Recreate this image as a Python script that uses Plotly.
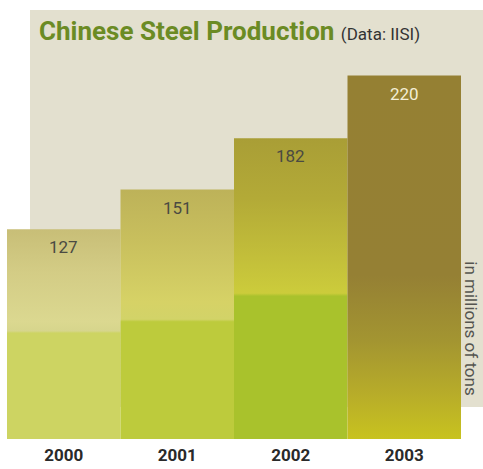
import plotly.graph_objects as go

# Chinese steel production, millions of tons (source: IISI)
years = ["2000", "2001", "2002", "2003"]
production = [127, 151, 182, 220]

# Vertical colour ramps for each bar, bottom (0) to top (1)
bar_ramps = [
    [[0.0, "#cdd462"], [0.505, "#cdd462"], [0.515, "#d6d58c"], [0.56, "#dbd890"],
     [0.8, "#d3cc85"], [1.0, "#c8be77"]],
    [[0.0, "#bdcb3c"], [0.47, "#bdcb3c"], [0.48, "#d2d368"], [0.55, "#d6d266"],
     [0.8, "#c8bf5d"], [1.0, "#bdb259"]],
    [[0.0, "#a9c22c"], [0.475, "#a9c22c"], [0.485, "#cccc3b"], [0.6, "#c3bf3a"],
     [0.8, "#b3aa37"], [1.0, "#a99e36"]],
    [[0.0, "#c8c31f"], [0.12, "#b8ad29"], [0.27, "#a39531"], [0.45, "#958034"],
     [1.0, "#958033"]],
]
label_colors = ["#4a4a42", "#4a4a42", "#4a4a42", "#f3eed6"]

fig = go.Figure()

for i, (yr, val) in enumerate(zip(years, production)):
    fig.add_trace(go.Scatter(
        x=[i - 0.5, i + 0.5, i + 0.5, i - 0.5, i - 0.5],
        y=[0, 0, val, val, 0],
        mode="lines",
        line=dict(width=0),
        fill="toself",
        fillgradient=dict(type="vertical", colorscale=bar_ramps[i], start=0, stop=val),
        hoverinfo="skip",
        showlegend=False,
    ))
    fig.add_annotation(
        x=i, y=val, xref="x", yref="y",
        text=str(val), showarrow=False,
        yanchor="top", yshift=-6,
        font=dict(family="Roboto", size=17, color=label_colors[i]),
    )

# Beige backdrop panel behind the bars
fig.add_shape(
    type="rect", xref="paper", yref="paper",
    x0=0.0507, x1=1.06, y0=0.0746, y1=1.0,
    fillcolor="#e3e0cf", line=dict(width=0), layer="below",
)

fig.add_annotation(
    xref="paper", yref="paper", x=0.066, y=0.952,
    xanchor="left", yanchor="middle", showarrow=False,
    text="<b>Chinese Steel Production</b> "
         "<span style='font-size:17px;color:#333333;font-weight:normal'>(Data: IISI)</span>",
    font=dict(family="Roboto", size=26, color="#6b8b24"),
)

fig.add_annotation(
    xref="paper", yref="paper", x=1.022, y=0.258,
    xanchor="center", yanchor="middle", showarrow=False,
    text="in millions of tons", textangle=90,
    font=dict(family="Roboto", size=17, color="#555550"),
)

fig.update_layout(
    width=483, height=469,
    margin=dict(l=7, r=22, t=10, b=30, autoexpand=False),
    paper_bgcolor="white",
    plot_bgcolor="rgba(0,0,0,0)",
    xaxis=dict(
        range=[-0.5, 3.5], tickvals=list(range(len(years))), ticktext=years,
        showgrid=False, zeroline=False, showline=False, ticks="",
        ticklabelstandoff=4, automargin=False,
        tickfont=dict(family="Roboto", size=17, color="#2a2a2a", weight="bold"),
        fixedrange=True,
    ),
    yaxis=dict(
        range=[0, 259.7], visible=False, showgrid=False, zeroline=False,
        fixedrange=True, automargin=False,
    ),
)

fig.write_html("out.html")
